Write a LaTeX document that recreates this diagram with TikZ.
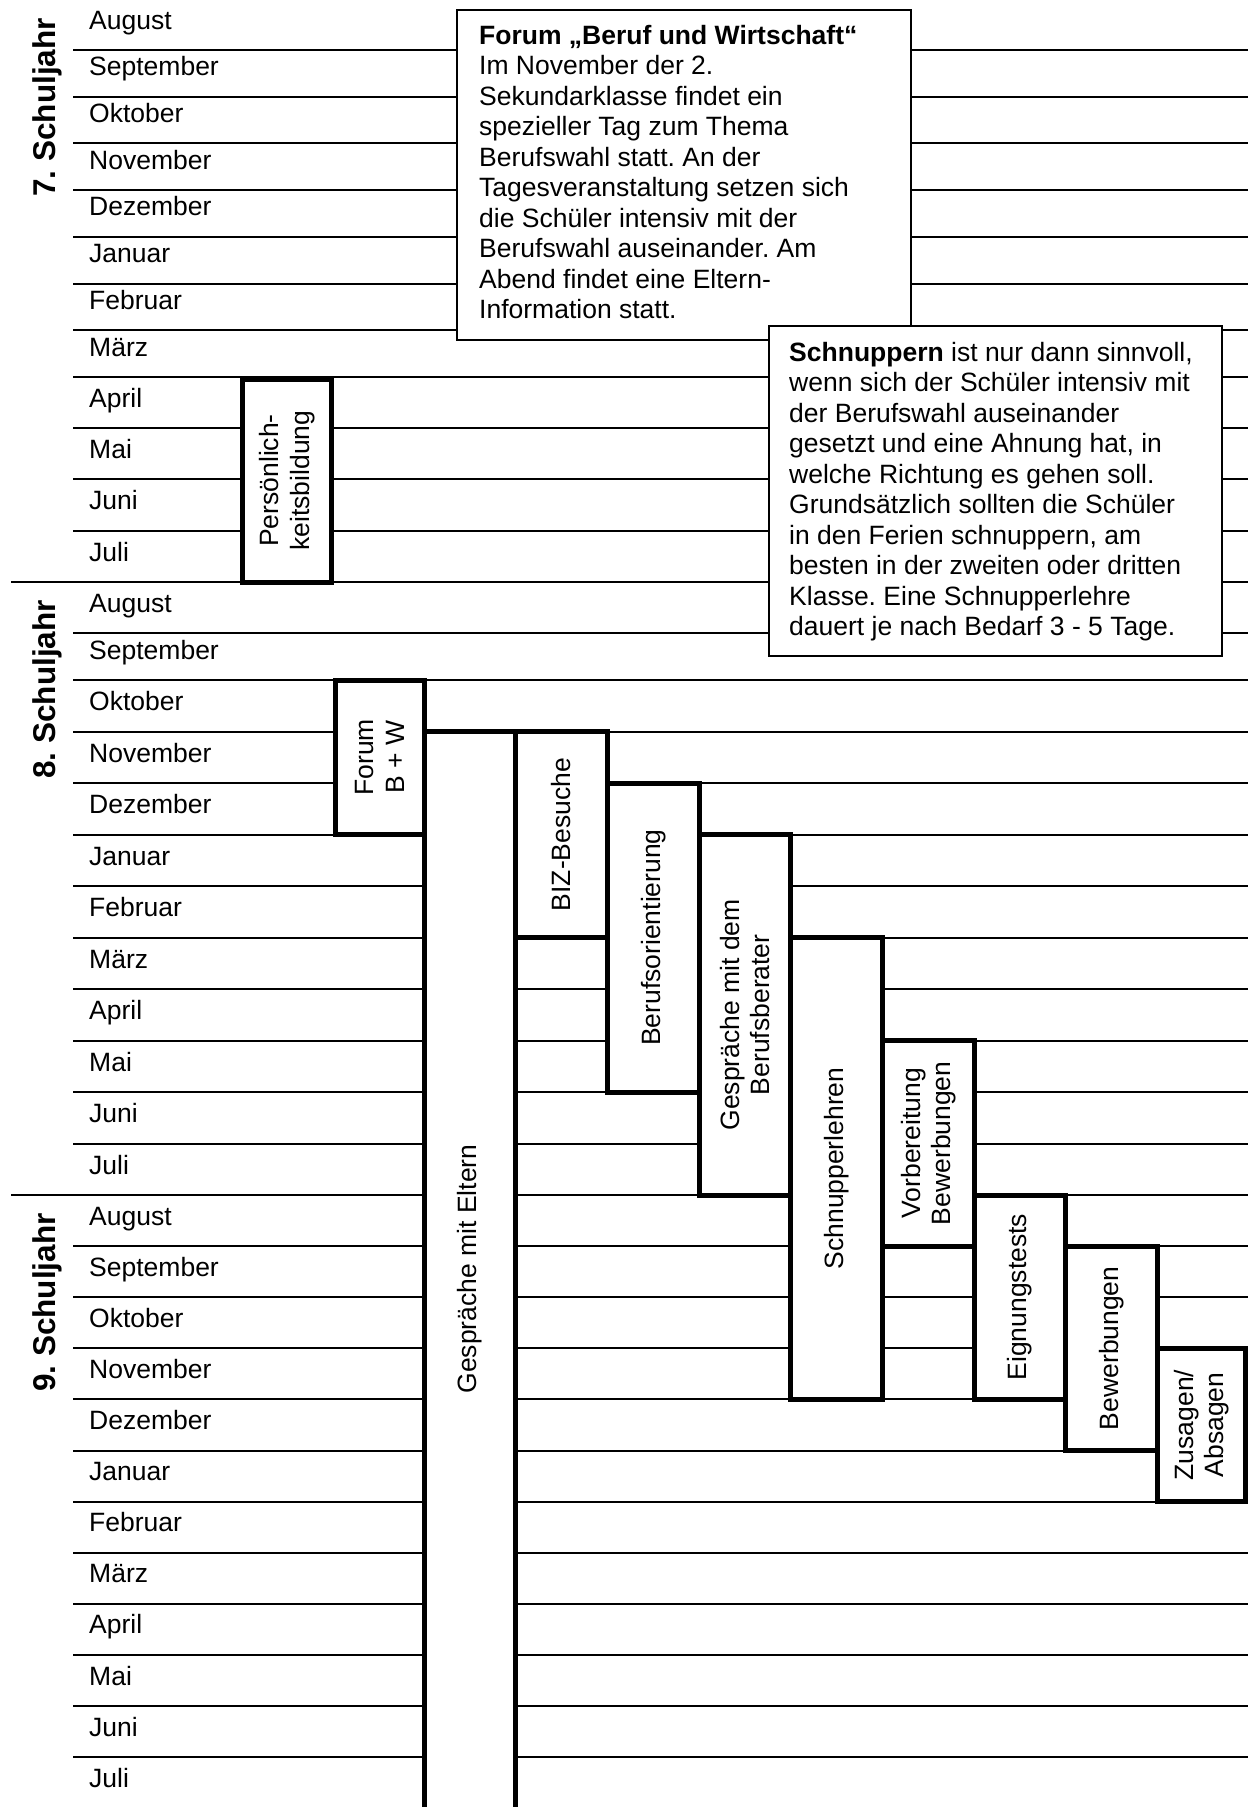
\documentclass[tikz,border=0pt]{standalone}
\usepackage{fontspec}
\setmainfont{Liberation Sans}
\frenchspacing
\begin{document}
\frenchspacing
\begin{tikzpicture}[x=1pt,y=-1pt,
  rule/.style={line width=2pt,black},
  txt/.style={font=\fontsize{26.5}{30.5}\selectfont\frenchspacing,inner sep=0pt},
  month/.style={txt,anchor=base west},
  infoline/.style={txt,anchor=base west},
  yearlabel/.style={font=\bfseries\fontsize{31.5}{36}\selectfont\frenchspacing,inner sep=0pt,rotate=90,anchor=base east},
  infobox/.style={draw,line width=1.8pt,fill=white},
  procbox/.style={draw,line width=5pt,fill=white},
  proclabel/.style={txt,rotate=90,align=center}]
\useasboundingbox (0,0) rectangle (1248,1807);
\clip (0,0) rectangle (1248,1807);
\fill[white] (0,0) rectangle (1248,1807);

% ---- horizontal rules
\foreach \y in {50,96.7,143.3,190,236.8,283.5,330.2,377,428.2,479.4,530.7,
  633,680,731.5,783,834.5,886,937.5,989,1040.5,1092,1143.5,
  1246.1,1297.2,1348.3,1399.4,1450.5,1501.6,1552.7,1603.8,1654.9,1706,1757.1}
  \draw[rule] (73,\y) -- (1248,\y);
\draw[rule] (11,582) -- (1248,582);
\draw[rule] (11,1195) -- (1248,1195);

% ---- month labels (baseline = row bottom - 21)
\foreach \b/\m [count=\i] in {50/August,96.7/September,143.3/Oktober,190/November,
  236.8/Dezember,283.5/Januar,330.2/Februar,377/März,428.2/April,479.4/Mai,530.7/Juni,582/Juli}
  \node[month] (ma\i) at (89,\b-21) {\m};
\foreach \b/\m [count=\i] in {633/August,680/September,731.5/Oktober,783/November,
  834.5/Dezember,886/Januar,937.5/Februar,989/März,1040.5/April,1092/Mai,1143.5/Juni,1195/Juli}
  \node[month] (mb\i) at (89,\b-21) {\m};
\foreach \b/\m [count=\i] in {1246.1/August,1297.2/September,1348.3/Oktober,1399.4/November,
  1450.5/Dezember,1501.6/Januar,1552.7/Februar,1603.8/März,1654.9/April,1706/Mai,1757.1/Juni,1808.2/Juli}
  \node[month] (mc\i) at (89,\b-21) {\m};

% ---- year labels
\node[yearlabel] (y7) at (55,18) {7. Schuljahr};
\node[yearlabel] (y8) at (55,600) {8. Schuljahr};
\node[yearlabel] (y9) at (55,1213) {9. Schuljahr};

% ---- info box: Forum
\path[infobox] (457,10) rectangle (911,340);
\node[infoline] (f1) at (479,44) {\textbf{Forum „Beruf und Wirtschaft“}};
\node[infoline] (f2) at (479,74.5) {Im November der 2.};
\node[infoline] (f3) at (479,105) {Sekundarklasse findet ein};
\node[infoline] (f4) at (479,135.5) {spezieller Tag zum Thema};
\node[infoline] (f5) at (479,166) {Berufswahl statt. An der};
\node[infoline] (f6) at (479,196.5) {Tagesveranstaltung setzen sich};
\node[infoline] (f7) at (479,227) {die Schüler intensiv mit der};
\node[infoline] (f8) at (479,257.5) {Berufswahl auseinander. Am};
\node[infoline] (f9) at (479,288) {Abend findet eine Eltern-};
\node[infoline] (f10) at (479,318.5) {Information statt.};

% ---- info box: Schnuppern
\path[infobox] (769,326) rectangle (1222,656);
\node[infoline] (s1) at (789,361) {\textbf{Schnuppern} ist nur dann sinnvoll,};
\node[infoline] (s2) at (789,391.5) {wenn sich der Schüler intensiv mit};
\node[infoline] (s3) at (789,422) {der Berufswahl auseinander};
\node[infoline] (s4) at (789,452.5) {gesetzt und eine Ahnung hat, in};
\node[infoline] (s5) at (789,483) {welche Richtung es gehen soll.};
\node[infoline] (s6) at (789,513.5) {Grundsätzlich sollten die Schüler};
\node[infoline] (s7) at (789,544) {in den Ferien schnuppern, am};
\node[infoline] (s8) at (789,574.5) {besten in der zweiten oder dritten};
\node[infoline] (s9) at (789,605) {Klasse. Eine Schnupperlehre};
\node[infoline] (s10) at (789,635.5) {dauert je nach Bedarf 3 - 5 Tage.};

% ---- process boxes
\path[procbox] (242.5,379) rectangle (331.5,582);
\node[proclabel] (pers) at (287,480.5) {Persönlich-\\keitsbildung};
\path[procbox] (335.5,680) rectangle (424.5,834.5);
\node[proclabel] (fbw) at (380,757.25) {Forum\\B + W};
\path[procbox] (424.5,731.5) rectangle (515.5,1830);
\node[proclabel] (elt) at (470,1269) {Gespräche mit Eltern};
\path[procbox] (515.5,731.5) rectangle (607.5,937.5);
\node[proclabel] (biz) at (561.5,834.5) {BIZ-Besuche};
\path[procbox] (607.5,783) rectangle (699.5,1092);
\node[proclabel] (bor) at (653.5,937.5) {Berufsorientierung};
\path[procbox] (699.5,834.5) rectangle (790.5,1195);
\node[proclabel] (gbb) at (745,1014.75) {Gespräche mit dem\\Berufsberater};
\path[procbox] (790.5,937.5) rectangle (882.5,1399.4);
\node[proclabel] (snl) at (836.5,1168.45) {Schnupperlehren};
\path[procbox] (882.5,1040.5) rectangle (974.5,1246.1);
\node[proclabel] (vbw) at (928.5,1143.3) {Vorbereitung\\Bewerbungen};
\path[procbox] (974.5,1195) rectangle (1065.5,1399.4);
\node[proclabel] (eig) at (1020,1297.2) {Eignungstests};
\path[procbox] (1065.5,1246.1) rectangle (1157.5,1450.5);
\node[proclabel] (bew) at (1111.5,1348.3) {Bewerbungen};
\path[procbox] (1157.5,1348.3) rectangle (1245.5,1501.6);
\node[proclabel] (zus) at (1201.5,1424.95) {Zusagen/\\Absagen};
\end{tikzpicture}
\end{document}
